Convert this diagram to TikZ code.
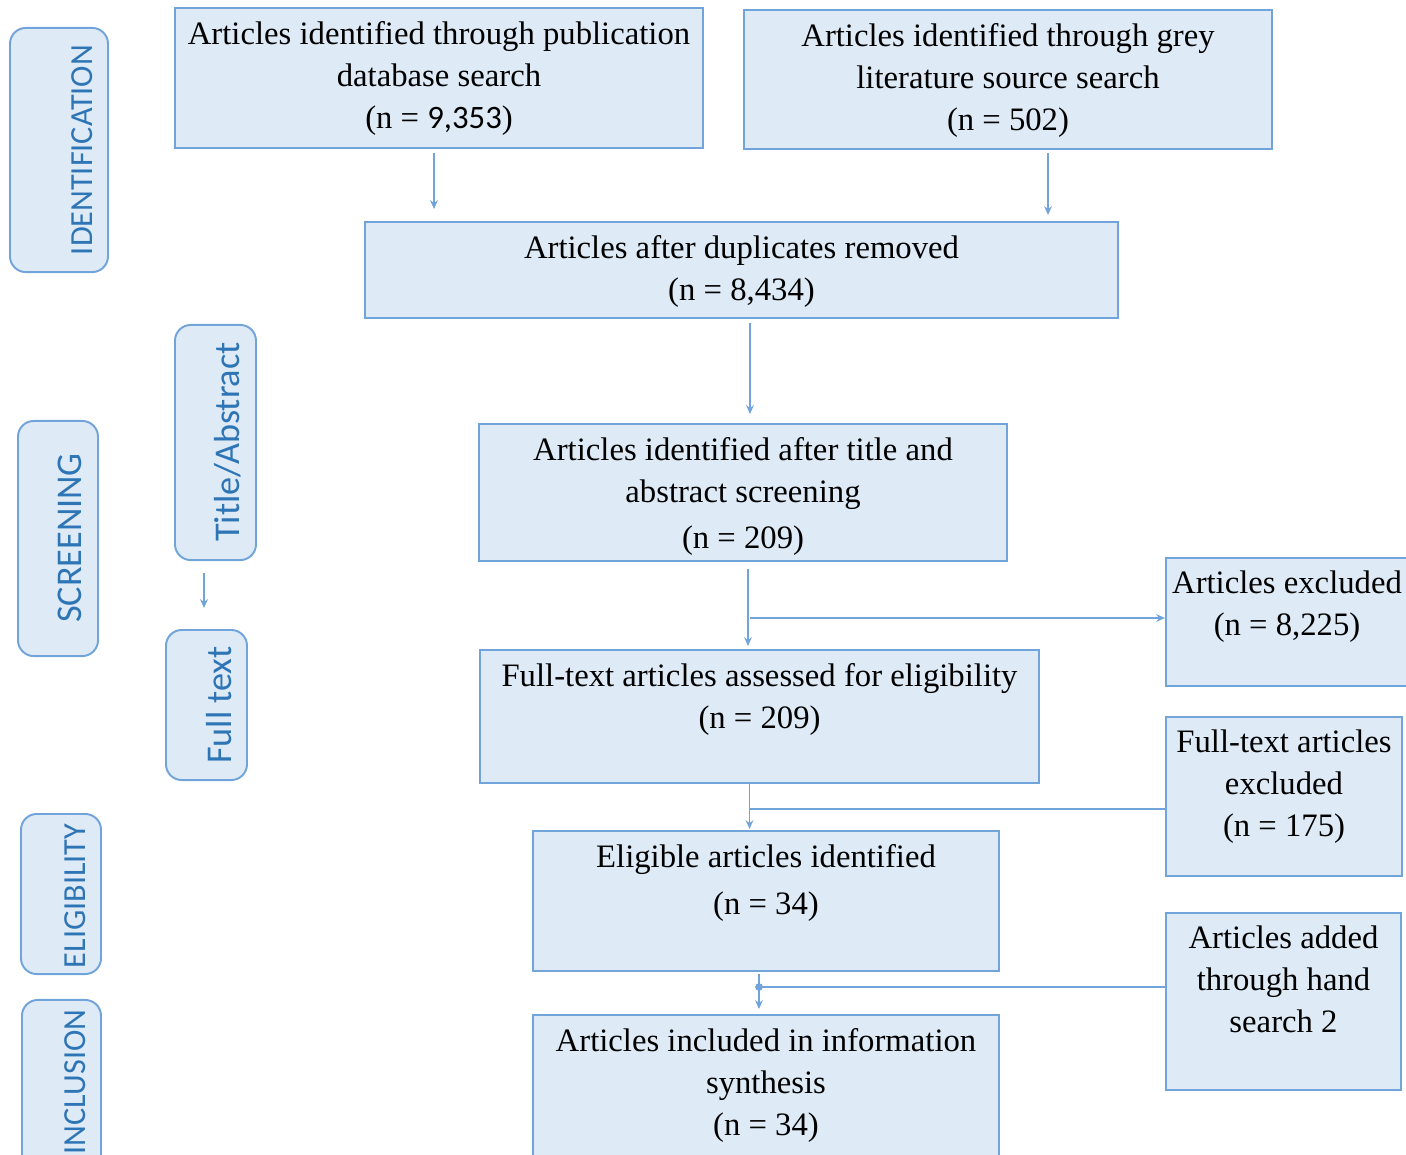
\documentclass[tikz,border=0pt]{standalone}
\usepackage{fontspec}
\setmainfont{Liberation Serif}
\setsansfont{Carlito}
\usetikzlibrary{arrows.meta}
\definecolor{boxfill}{RGB}{222,234,246}
\definecolor{boxline}{RGB}{112,164,218}
\definecolor{sidetext}{RGB}{46,117,182}
\begin{document}
\begin{tikzpicture}[x=0.01cm, y=-0.01cm,
    box/.style={draw=boxline, fill=boxfill, line width=0.55pt, inner sep=0pt},
    side/.style={box, rounded corners=4.5pt},
    txt/.style={anchor=north, align=center, inner sep=0pt, font=\fontsize{9.3}{11.95}\selectfont},
    sidetxt/.style={rotate=90, inner sep=0pt, text=sidetext, font=\sffamily\fontsize{9.15}{11}\selectfont},
    bigtxt/.style={sidetxt, font=\sffamily\fontsize{10.3}{12}\selectfont},
    arr/.style={draw=boxline, line width=0.45pt, -{Stealth[length=2.5pt, width=2.2pt]}},
    conn/.style={draw=boxline, line width=0.45pt}]
\clip (0,0) rectangle (1406,1154);

\node[side, minimum width=0.98cm, minimum height=2.44cm] (id) at (59,150) {};
\node[sidetxt] (idt) at (82,150) {IDENTIFICATION};
\node[side, minimum width=0.80cm, minimum height=2.35cm] (sc) at (58,538.5) {};
\node[bigtxt] (sct) at (70,538) {SCREENING};
\node[side, minimum width=0.80cm, minimum height=1.60cm] (el) at (61,894) {};
\node[sidetxt] (elt) at (75.5,896) {ELIGIBILITY};
\node[side, minimum width=0.79cm, minimum height=2.00cm] (in) at (61.5,1100) {};
\node[sidetxt] (int) at (75.5,1082) {INCLUSION};
\node[side, minimum width=0.81cm, minimum height=2.35cm] (ta) at (215.5,442.5) {};
\node[bigtxt] (tat) at (228,442) {Title/Abstract};
\node[side, minimum width=0.81cm, minimum height=1.50cm] (ft) at (206.5,705) {};
\node[bigtxt] (ftt) at (219,705) {Full text};

\node[box, minimum width=5.28cm, minimum height=1.40cm] (1) at (439,78) {};
\node[txt] (t1) at ([yshift=-3.8pt]1.north) {Articles identified through publication\\database search\\(n = {\sffamily 9,353})};
\node[box, minimum width=5.28cm, minimum height=1.39cm] (2) at (1008,79.5) {};
\node[txt] (t2) at ([yshift=-3.8pt]2.north) {Articles identified through grey\\literature source search\\(n = 502)};
\node[box, minimum width=7.53cm, minimum height=0.96cm] (3) at (741.5,270) {};
\node[txt] (t3) at ([yshift=-3.8pt]3.north) {Articles after duplicates removed\\(n = 8,434)};
\node[box, minimum width=5.28cm, minimum height=1.37cm] (4) at (743,492.5) {};
\node[txt] (t4) at ([yshift=-3.8pt]4.north) {Articles identified after title and\\abstract screening\\[1.1pt](n = 209)};
\node[box, minimum width=2.42cm, minimum height=1.28cm] (5) at (1287,622) {};
\node[txt] (t5) at ([yshift=-3.8pt]5.north) {Articles excluded\\(n = 8,225)};
\node[box, minimum width=5.59cm, minimum height=1.33cm] (6) at (759.5,716.5) {};
\node[txt] (t6) at ([yshift=-3.8pt]6.north) {Full-text articles assessed for eligibility\\(n = 209)};
\node[box, minimum width=2.36cm, minimum height=1.59cm] (7) at (1284,796.5) {};
\node[txt] (t7) at ([yshift=-3.8pt]7.north) {Full-text articles\\excluded\\(n = 175)};
\node[box, minimum width=4.66cm, minimum height=1.40cm] (8) at (766,901) {};
\node[txt] (t8) at ([yshift=-3.8pt]8.north) {Eligible articles identified\\[1.4pt](n = 34)};
\node[box, minimum width=2.35cm, minimum height=1.77cm] (9) at (1283.5,1001.5) {};
\node[txt] (t9) at ([yshift=-3.8pt]9.north) {Articles added\\through hand\\search 2};
\node[box, minimum width=4.66cm, minimum height=1.60cm] (10) at (766,1095) {};
\node[txt] (t10) at ([yshift=-3.8pt]10.north) {Articles included in information\\synthesis\\(n = 34)};

\coordinate (j1) at (750,618);
\coordinate (j2) at (750,809);
\coordinate (j3) at (759,987);

\draw[arr, shorten <=0.04cm, shorten >=0.12cm] ([xshift=-0.05cm]1.south) -- ([xshift=-0.05cm]1.south |- 3.north);
\draw[arr, shorten <=0.03cm, shorten >=0.06cm] ([xshift=0.40cm]2.south) -- ([xshift=0.40cm]2.south |- 3.north);
\draw[arr, shorten <=0.04cm, shorten >=0.09cm] ([xshift=0.085cm]3.south) -- ([xshift=0.085cm]3.south |- 4.north);
\draw[arr, shorten <=0.07cm, shorten >=0.03cm] ([xshift=0.05cm]4.south) -- ([xshift=0.05cm]4.south |- 6.north);
\draw[arr] (j1) -- (5.west |- j1);
\draw[arr, shorten >=0.01cm] ([xshift=-0.10cm]6.south) -- ([xshift=-0.10cm]6.south |- 8.north);
\draw[conn] (7.west |- j2) -- (j2);
\draw[arr, shorten <=0.02cm, shorten >=0.05cm] ([xshift=-0.07cm]8.south) -- ([xshift=-0.07cm]8.south |- 10.north);
\draw[conn] (9.west |- j3) -- (j3);
\fill[boxline] (j3) circle (1.1pt);
\draw[arr, shorten <=0.12cm, shorten >=0.21cm] ([xshift=-0.115cm]ta.south) -- ([xshift=-0.115cm]ta.south |- ft.north);
\end{tikzpicture}
\end{document}
